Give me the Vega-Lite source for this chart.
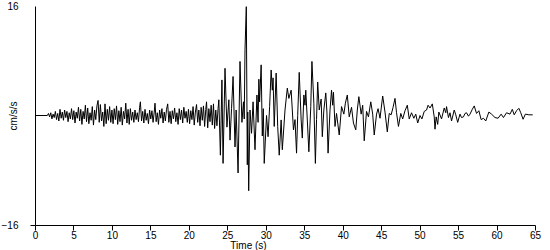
{
"$schema": "https://vega.github.io/schema/vega-lite/v6.json",
"width": 500, "height": 219,
"autosize": {"type": "none"},
"padding": {"left": 35, "top": 6, "right": 15, "bottom": 25},
"background": "white",
"config": {"view": {"stroke": null}, "font": "Liberation Sans"},
"data": {"values": [
{"t":0,"v":0},{"t":1.6,"v":0},{"t":1.75,"v":0.3},{"t":1.9,"v":-0.2},{"t":2.05,"v":0.4},{"t":2.2,"v":-0.5},{"t":2.35,"v":0.2},{"t":2.5,"v":-0.3},{"t":2.65,"v":0.6},{"t":2.8,"v":-0.6},{"t":2.95,"v":0.3},{"t":3.1,"v":-0.8},{"t":3.25,"v":0.9},{"t":3.4,"v":-0.4},{"t":3.55,"v":0.5},{"t":3.7,"v":-0.7},{"t":3.85,"v":0.8},{"t":4.0,"v":-0.3},{"t":4.15,"v":0.6},{"t":4.3,"v":-0.9},{"t":4.45,"v":0.4},{"t":4.6,"v":-0.5},{"t":4.75,"v":1.0},{"t":4.9,"v":-0.6},
{"t":5.05,"v":0.7},{"t":5.2,"v":-1.1},{"t":5.35,"v":0.5},{"t":5.5,"v":-0.4},{"t":5.65,"v":1.2},{"t":5.8,"v":-0.8},{"t":5.95,"v":0.9},{"t":6.1,"v":-1.3},{"t":6.25,"v":0.6},{"t":6.4,"v":-0.5},{"t":6.55,"v":1.5},{"t":6.7,"v":-0.9},{"t":6.85,"v":1.1},{"t":7.0,"v":-1.2},{"t":7.15,"v":0.4},{"t":7.3,"v":-0.7},{"t":7.45,"v":1.3},{"t":7.6,"v":-1.4},{"t":7.75,"v":0.8},{"t":7.9,"v":-0.6},{"t":8.05,"v":1.4},{"t":8.2,"v":2.2},{"t":8.35,"v":-1.0},{"t":8.5,"v":1.6},{"t":8.65,"v":-0.8},{"t":8.8,"v":0.5},{"t":8.95,"v":-1.6},{"t":9.1,"v":1.7},{"t":9.25,"v":-1.2},{"t":9.4,"v":0.9},{"t":9.55,"v":-0.7},{"t":9.7,"v":1.3},{"t":9.85,"v":-1.0},
{"t":10.0,"v":0.8},{"t":10.15,"v":-1.2},{"t":10.3,"v":1.0},{"t":10.45,"v":-0.6},{"t":10.6,"v":1.4},{"t":10.75,"v":-1.3},{"t":10.9,"v":0.7},{"t":11.05,"v":-0.9},{"t":11.2,"v":1.2},{"t":11.35,"v":-1.4},{"t":11.5,"v":0.6},{"t":11.65,"v":-0.5},{"t":11.8,"v":1.8},{"t":11.95,"v":-1.1},{"t":12.1,"v":0.9},{"t":12.25,"v":-1.3},{"t":12.4,"v":1.0},{"t":12.55,"v":-0.7},{"t":12.7,"v":0.5},{"t":12.85,"v":-1.0},{"t":13.0,"v":0.8},{"t":13.15,"v":-0.6},{"t":13.3,"v":0.4},{"t":13.45,"v":-0.9},{"t":13.6,"v":1.2},{"t":13.7,"v":2.0},{"t":13.85,"v":-0.8},{"t":14.0,"v":0.6},{"t":14.15,"v":-1.1},{"t":14.3,"v":0.9},{"t":14.45,"v":-0.7},{"t":14.6,"v":0.3},{"t":14.75,"v":-1.2},{"t":14.9,"v":0.8},
{"t":15.05,"v":-0.5},{"t":15.2,"v":0.7},{"t":15.35,"v":-1.0},{"t":15.5,"v":0.5},{"t":15.6,"v":1.8},{"t":15.75,"v":-0.9},{"t":15.9,"v":0.4},{"t":16.05,"v":-1.3},{"t":16.2,"v":0.8},{"t":16.35,"v":-0.4},{"t":16.5,"v":1.0},{"t":16.65,"v":-1.1},{"t":16.8,"v":0.5},{"t":16.95,"v":-0.8},{"t":17.1,"v":0.9},{"t":17.25,"v":1.7},{"t":17.4,"v":-1.0},{"t":17.55,"v":0.6},{"t":17.7,"v":-1.2},{"t":17.85,"v":0.7},{"t":18.0,"v":-0.5},{"t":18.15,"v":1.1},{"t":18.3,"v":-0.9},{"t":18.45,"v":0.4},{"t":18.6,"v":-1.3},{"t":18.75,"v":1.0},{"t":18.9,"v":-0.6},{"t":19.05,"v":0.8},{"t":19.2,"v":-1.1},{"t":19.35,"v":1.2},{"t":19.5,"v":-0.4},{"t":19.65,"v":0.6},{"t":19.8,"v":-1.0},{"t":19.95,"v":0.9},
{"t":20.1,"v":-1.2},{"t":20.25,"v":0.7},{"t":20.4,"v":-0.6},{"t":20.55,"v":1.3},{"t":20.7,"v":-1.4},{"t":20.85,"v":0.5},{"t":21.0,"v":1.6},{"t":21.15,"v":-1.0},{"t":21.3,"v":0.8},{"t":21.45,"v":-1.5},{"t":21.6,"v":1.2},{"t":21.75,"v":-0.7},{"t":21.9,"v":1.4},{"t":22.05,"v":-1.6},{"t":22.2,"v":0.9},{"t":22.3,"v":2.0},{"t":22.45,"v":-1.8},{"t":22.6,"v":1.0},{"t":22.75,"v":-0.9},{"t":22.9,"v":1.5},{"t":23.05,"v":-1.4},{"t":23.2,"v":1.7},{"t":23.35,"v":-1.9},
{"t":23.5,"v":0.8},{"t":23.65,"v":-1.5},{"t":23.8,"v":1.0},{"t":23.9,"v":2.3},{"t":24.1,"v":-5.8},{"t":24.3,"v":5.2},{"t":24.45,"v":-7.0},{"t":24.7,"v":6.9},{"t":24.95,"v":-1.7},{"t":25.2,"v":2.3},{"t":25.35,"v":-3.6},{"t":25.55,"v":1.0},{"t":25.75,"v":5.7},{"t":26.0,"v":-4.6},{"t":26.15,"v":0.8},{"t":26.4,"v":-8.4},{"t":26.65,"v":7.9},{"t":26.9,"v":-1.0},{"t":27.1,"v":2.0},{"t":27.2,"v":-0.5},{"t":27.3,"v":9.6},{"t":27.47,"v":15.9},{"t":27.6,"v":-7.2},{"t":27.66,"v":0.5},{"t":27.78,"v":-11.0},{"t":27.95,"v":0.8},{"t":28.15,"v":-2.6},{"t":28.35,"v":2.0},{"t":28.6,"v":-5.0},{"t":28.85,"v":3.0},{"t":29.0,"v":-1.0},{"t":29.1,"v":5.3},{"t":29.2,"v":2.0},{"t":29.4,"v":7.4},{"t":29.55,"v":-3.0},{"t":29.68,"v":1.0},{"t":29.8,"v":-7.0},{"t":30.1,"v":0.0},{"t":30.3,"v":-3.1},{"t":30.5,"v":1.3},{"t":30.7,"v":6.65},{"t":30.85,"v":3.7},{"t":30.95,"v":5.5},{"t":31.1,"v":-1.6},{"t":31.35,"v":6.2},{"t":31.55,"v":-1.6},{"t":31.75,"v":-5.8},{"t":32.0,"v":-0.65},{"t":32.15,"v":-5.0},{"t":32.5,"v":0.8},{"t":32.8,"v":4.0},{"t":33.0,"v":2.5},{"t":33.3,"v":3.7},{"t":33.6,"v":-2.1},{"t":33.8,"v":-0.6},{"t":34.0,"v":-5.5},{"t":34.15,"v":0.0},{"t":34.35,"v":6.3},{"t":34.6,"v":-0.65},{"t":34.75,"v":-3.3},{"t":34.95,"v":3.0},{"t":35.1,"v":1.5},{"t":35.2,"v":3.7},{"t":35.4,"v":-0.65},{"t":35.6,"v":-5.3},{"t":35.85,"v":1.3},{"t":36.0,"v":7.9},{"t":36.25,"v":1.8},{"t":36.45,"v":-7.0},{"t":36.6,"v":-0.6},{"t":36.75,"v":4.9},{"t":36.95,"v":0.8},{"t":37.2,"v":2.4},{"t":37.35,"v":-3.1},{"t":37.55,"v":0.8},{"t":37.8,"v":3.3},{"t":37.95,"v":0.5},{"t":38.1,"v":-5.5},{"t":38.35,"v":0.8},{"t":38.55,"v":3.7},{"t":38.7,"v":1.5},{"t":38.8,"v":3.4},{"t":39.0,"v":-1.6},{"t":39.2,"v":0.3},{"t":39.55,"v":-2.85},{"t":39.85,"v":1.3},{"t":40.15,"v":0.2},{"t":40.35,"v":1.8},{"t":40.6,"v":3.0},{"t":40.85,"v":-0.2},{"t":41.15,"v":1.2},{"t":41.4,"v":-1.1},{"t":41.7,"v":-2.1},{"t":41.9,"v":0.8},{"t":42.1,"v":2.75},{"t":42.4,"v":0.2},{"t":42.6,"v":1.5},{"t":42.8,"v":-3.7},{"t":43.1,"v":0.6},{"t":43.35,"v":-0.2},{"t":43.65,"v":2.0},{"t":43.9,"v":0.2},{"t":44.1,"v":-2.85},{"t":44.4,"v":0.2},{"t":44.6,"v":1.0},{"t":44.85,"v":-0.4},{"t":45.2,"v":2.85},{"t":45.5,"v":0.5},{"t":45.8,"v":-2.4},{"t":46.05,"v":0.3},{"t":46.3,"v":0.1},{"t":46.55,"v":1.2},{"t":46.8,"v":2.5},{"t":47.0,"v":0.4},{"t":47.25,"v":-1.6},{"t":47.55,"v":0.3},{"t":47.8,"v":-0.5},{"t":48.1,"v":0.7},{"t":48.4,"v":1.5},{"t":48.65,"v":-0.5},{"t":48.95,"v":0.4},{"t":49.25,"v":-0.4},{"t":49.5,"v":0.2},{"t":49.75,"v":-1.1},{"t":50.05,"v":0.0},{"t":50.3,"v":-0.5},{"t":50.6,"v":0.6},{"t":50.9,"v":0.8},{"t":51.1,"v":1.5},{"t":51.35,"v":1.1},{"t":51.65,"v":1.7},{"t":51.9,"v":-0.2},{"t":52.0,"v":-2.0},{"t":52.15,"v":-0.2},{"t":52.35,"v":-1.3},{"t":52.5,"v":0.5},{"t":52.85,"v":-0.5},{"t":53.2,"v":1.1},{"t":53.4,"v":0.4},{"t":53.5,"v":1.3},{"t":53.75,"v":-0.3},{"t":53.95,"v":0.4},{"t":54.15,"v":-0.8},{"t":54.5,"v":0.8},{"t":54.7,"v":0.1},{"t":54.95,"v":-1.0},{"t":55.25,"v":0.2},{"t":55.45,"v":-0.3},{"t":55.7,"v":-0.2},{"t":55.9,"v":0.3},{"t":56.1,"v":0.4},{"t":56.35,"v":-0.1},{"t":56.55,"v":0.2},{"t":56.85,"v":0.9},{"t":57.1,"v":1.4},{"t":57.4,"v":0.3},{"t":57.7,"v":0.7},{"t":58.0,"v":-0.6},{"t":58.3,"v":-0.4},{"t":58.6,"v":-0.8},{"t":59.0,"v":0.5},{"t":59.35,"v":0.2},{"t":59.8,"v":-0.3},{"t":60.2,"v":-0.4},{"t":60.6,"v":0.2},{"t":60.9,"v":-0.3},{"t":61.3,"v":0.4},{"t":61.75,"v":0.2},{"t":62.05,"v":0.9},{"t":62.3,"v":0.1},{"t":62.6,"v":0.7},{"t":62.9,"v":1.05},{"t":63.15,"v":0.4},{"t":63.45,"v":-0.55},{"t":63.75,"v":0.2},{"t":64.2,"v":0.1},{"t":64.7,"v":0.1}
]},
"mark": {"type": "line", "color": "black", "strokeWidth": 1},
"encoding": {
"x": {"field": "t", "type": "quantitative",
 "scale": {"domain": [0, 65], "nice": false, "zero": false},
 "axis": {"values": [0,5,10,15,20,25,30,35,40,45,50,55,60,65], "title": "Time (s)", "grid": false,
  "domainColor": "black", "tickColor": "black", "tickSize": 5, "labelColor": "black", "labelFontSize": 10, "labelPadding": 0, "labelBaseline": "top", "labelFlush": false,
  "titleColor": "black", "titleFontSize": 10, "titleFontWeight": "normal", "titleX": 213, "titleY": 15, "titleBaseline": "top"}},
"y": {"field": "v", "type": "quantitative",
 "scale": {"domain": [-16, 16], "nice": false},
 "axis": {"values": [-16, 16], "title": "cm/s/s", "grid": false,
  "domainColor": "black", "tickSize": 5, "tickColor": {"condition": {"test": "datum.value < 0", "value": "black"}, "value": "transparent"},
  "labelColor": "black", "labelFontSize": 10, "labelPadding": 12,
  "titleColor": "black", "titleFontSize": 10, "titleFontWeight": "normal", "titleX": -22, "titleY": 109.5, "titleAlign": "center", "titleBaseline": "middle"}}
}
}
